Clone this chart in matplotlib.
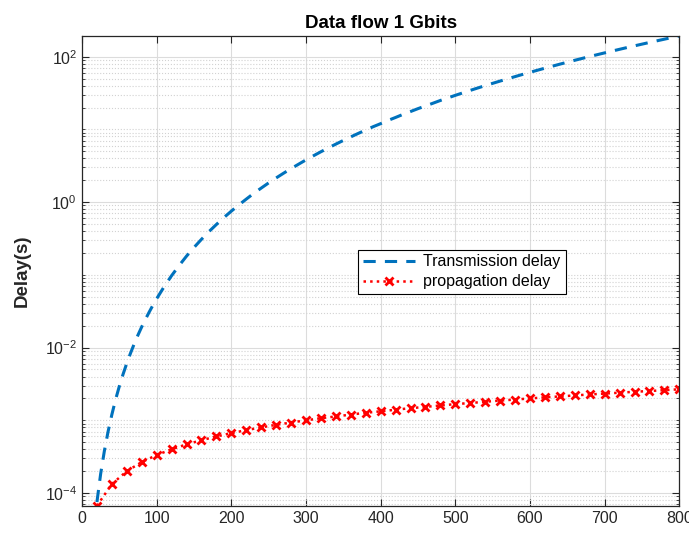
import numpy as np
import matplotlib.pyplot as plt
from matplotlib.ticker import LogLocator, NullFormatter

plt.rcParams['font.family'] = ['Liberation Sans', 'DejaVu Sans']

# distance values for the transmission curve (finer at the start)
distance_tx = [20, 25, 30, 35, 40, 45, 50, 55, 60, 65, 70, 75, 80, 85, 90, 95,
               100, 110, 120, 130, 140, 150, 160, 170, 180, 190,
               200, 210, 220, 230, 240, 250, 260, 270, 280, 290,
               300, 310, 320, 330, 340, 350, 360, 370, 380, 390,
               400, 410, 420, 430, 440, 450, 460, 470, 480, 490,
               500, 510, 520, 530, 540, 550, 560, 570, 580, 590,
               600, 610, 620, 630, 640, 650, 660, 670, 680, 690,
               700, 710, 720, 730, 740, 750, 760, 770, 780, 790, 800]

# transmission delay (s)
transmission = [7.52e-5, 1.84e-4, 3.81e-4, 7.05e-4, 1.20e-3, 1.93e-3, 2.94e-3, 4.30e-3,
                6.09e-3, 8.39e-3, 0.0113, 0.0149, 0.0193, 0.0245, 0.0308, 0.0383,
                0.0470, 0.0688, 0.0975, 0.134, 0.181, 0.238, 0.308, 0.393, 0.493, 0.613,
                0.752, 0.914, 1.10, 1.32, 1.56, 1.84, 2.15, 2.50, 2.89, 3.32,
                3.81, 4.34, 4.93, 5.57, 6.28, 7.05, 7.89, 8.81, 9.80, 10.9,
                12.0, 13.3, 14.6, 16.1, 17.6, 19.3, 21.0, 22.9, 25.0, 27.1,
                29.4, 31.8, 34.4, 37.1, 40.0, 43.0, 46.2, 49.6, 53.2, 57.0,
                60.9, 65.1, 69.5, 74.0, 78.9, 83.9, 89.2, 94.7, 100.5, 106.5,
                112.8, 119.4, 126.3, 133.5, 140.9, 148.7, 156.8, 165.2, 174.0, 183.1, 192.5]

# distance values for the propagation curve
distance_prop = [20, 40, 60, 80, 100, 120, 140, 160, 180, 200,
                 220, 240, 260, 280, 300, 320, 340, 360, 380, 400,
                 420, 440, 460, 480, 500, 520, 540, 560, 580, 600,
                 620, 640, 660, 680, 700, 720, 740, 760, 780, 800]

# propagation delay (s)
propagation = [6.67e-5, 1.33e-4, 2.00e-4, 2.67e-4, 3.33e-4, 4.00e-4, 4.67e-4, 5.33e-4, 6.00e-4, 6.67e-4,
               7.33e-4, 8.00e-4, 8.67e-4, 9.33e-4, 1.00e-3, 1.07e-3, 1.13e-3, 1.20e-3, 1.27e-3, 1.33e-3,
               1.40e-3, 1.47e-3, 1.53e-3, 1.60e-3, 1.67e-3, 1.73e-3, 1.80e-3, 1.87e-3, 1.93e-3, 2.00e-3,
               2.07e-3, 2.13e-3, 2.20e-3, 2.27e-3, 2.33e-3, 2.40e-3, 2.47e-3, 2.53e-3, 2.60e-3, 2.67e-3]

fig = plt.figure(figsize=(6.89, 5.37), dpi=100)
ax = fig.add_axes([0.119, 0.058, 0.867, 0.875])

ax.semilogy(distance_tx, transmission, color=(0, 0.447, 0.741), linewidth=2.2,
            dashes=(4, 3), label='Transmission delay')
ax.semilogy(distance_prop, propagation, ':x', color='red', linewidth=1.8,
            markersize=6, markeredgewidth=2, label='propagation delay')

ax.set_xlim(0, 800)
ax.set_ylim(min(propagation), max(transmission))
ax.set_xticks(np.arange(0, 801, 100))
ax.set_yticks([1e-4, 1e-2, 1e0, 1e2])
ax.yaxis.set_minor_locator(LogLocator(base=10, subs=np.arange(1, 10), numticks=30))
ax.yaxis.set_minor_formatter(NullFormatter())

dark = '#262626'
for s in ax.spines.values():
    s.set_color(dark)
    s.set_linewidth(0.9)
ax.tick_params(which='both', direction='in', top=True, right=True, colors=dark,
               labelsize=11.5, labelcolor=dark)
ax.tick_params(which='major', length=5)
ax.tick_params(which='minor', length=2.5)

ax.grid(True, which='major', color='#dcdcdc', linewidth=0.8, linestyle='-')
ax.grid(True, which='minor', axis='y', color='#d2d2d2', linewidth=0.8, linestyle=':')
ax.set_axisbelow(True)

ax.set_title('Data flow 1 Gbits', fontsize=13.5, fontweight='bold', color='black', pad=6)
ax.set_ylabel('Delay(s)', fontsize=13.5, fontweight='bold', color=dark, labelpad=10)

leg = ax.legend(loc='lower left', bbox_to_anchor=(0.462, 0.451), fontsize=11.5,
                fancybox=False, framealpha=1, edgecolor='black', borderpad=0.3,
                handlelength=3.3, labelspacing=0.3, handletextpad=0.5, borderaxespad=0)
leg.get_frame().set_linewidth(0.8)

fig.savefig('out.png', dpi=100)
